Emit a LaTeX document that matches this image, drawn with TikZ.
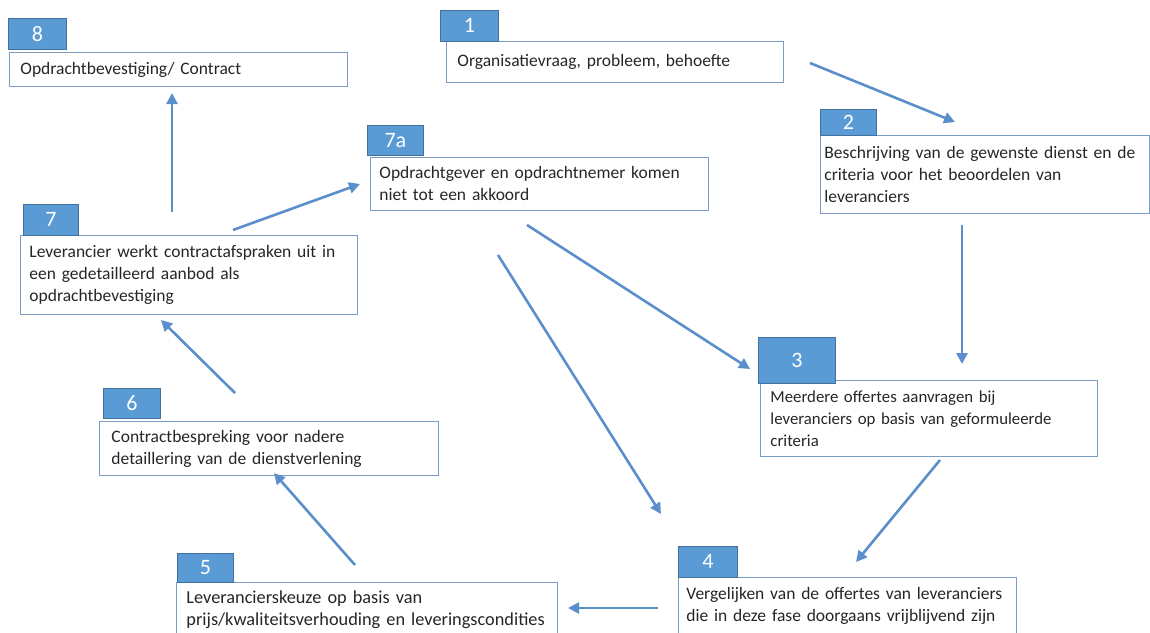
\documentclass[tikz,border=0pt]{standalone}
\usepackage{fontspec}
\setmainfont{Carlito}
\usetikzlibrary{arrows.meta}
\hyphenpenalty=10000
\exhyphenpenalty=10000
\definecolor{tabfill}{HTML}{5B9BD5}
\definecolor{tabline}{HTML}{41719C}
\definecolor{boxline}{HTML}{7C9BC4}
\definecolor{arrcol}{HTML}{5A8FCB}
\tikzset{
  stepbox/.style={draw=boxline, line width=0.9pt, fill=white, anchor=north west,
    inner xsep=10pt, inner ysep=0pt, align=left,
    font=\fontsize{17.5}{22}\selectfont, text=black!85},
  tabbox/.style={draw=tabline, line width=0.8pt, fill=tabfill, anchor=north west,
    inner sep=0pt, text=white, font=\fontsize{22}{24}\selectfont},
  arr/.style={draw=arrcol, line width=2.6pt, -{Triangle[length=11pt,width=11pt]}}
}
\begin{document}
\begin{tikzpicture}[x=1pt,y=-1pt]
\useasboundingbox (0,0) rectangle (1150,632);
% boxes
\node[stepbox, minimum width=338pt, minimum height=34pt, text width=316pt, inner xsep=11pt] (b8) at (9,52) {Opdrachtbevestiging/ Contract};
\node[stepbox, minimum width=337pt, minimum height=41pt, text width=315pt, inner xsep=11pt] (b1) at (446,41) {Organisatievraag, probleem, behoefte};
\node[stepbox, minimum width=329pt, minimum height=78pt, text width=321pt, inner xsep=4pt] (b2) at (820,135) {Beschrijving van de gewenste dienst en de\\criteria voor het beoordelen van\\leveranciers};
\node[stepbox, minimum width=337pt, minimum height=79pt, text width=319pt, inner xsep=9pt] (b7) at (20,235) {Leverancier werkt contractafspraken uit in\\een gedetailleerd aanbod als\\opdrachtbevestiging};
\node[stepbox, minimum width=338pt, minimum height=53pt, text width=320pt, inner xsep=9pt] (b7a) at (370,157) {Opdrachtgever en opdrachtnemer komen\\niet tot een akkoord};
\node[stepbox, minimum width=337pt, minimum height=76pt, text width=317pt, font=\fontsize{16.8}{22}\selectfont] (b3) at (760,380) {Meerdere offertes aanvragen bij\\leveranciers op basis van geformuleerde\\criteria};
\node[stepbox, minimum width=339pt, minimum height=54pt, text width=315pt, inner xsep=12pt] (b6) at (99,421) {Contractbespreking voor nadere\\detaillering van de dienstverlening};
\node[stepbox, minimum width=381pt, minimum height=54pt, text width=361pt, inner xsep=10pt, font=\fontsize{18.3}{22}\selectfont] (b5) at (176,582) {Leverancierskeuze op basis van\\\mbox{prijs/kwaliteitsverhouding en leveringscondities}};
\node[stepbox, minimum width=338pt, minimum height=56pt, text width=322pt, inner xsep=8pt] (b4) at (678,577) {Vergelijken van de offertes van leveranciers\\die in deze fase doorgaans vrijblijvend zijn};
% tabs
\node[tabbox, minimum width=58pt, minimum height=31pt] (t8) at (8,18) {8};
\node[tabbox, minimum width=58pt, minimum height=31pt] (t1) at (440,10) {1};
\node[tabbox, minimum width=56pt, minimum height=26pt] (t2) at (820,109) {2};
\node[tabbox, minimum width=55pt, minimum height=31pt] (t7) at (23,204) {7};
\node[tabbox, minimum width=56pt, minimum height=30pt] (t7a) at (367,125) {7a};
\node[tabbox, minimum width=77pt, minimum height=46pt] (t3) at (758,337) {3};
\node[tabbox, minimum width=57pt, minimum height=30pt] (t6) at (103,388) {6};
\node[tabbox, minimum width=56pt, minimum height=29pt] (t5) at (177,553) {5};
\node[tabbox, minimum width=59pt, minimum height=31pt] (t4) at (678,546) {4};
% arrow end points
\coordinate (p1s) at (810,63);  \coordinate (p1e) at (955,122);
\coordinate (p2s) at (962,225); \coordinate (p2e) at (962,364);
\coordinate (p3s) at (940,460); \coordinate (p3e) at (856,562);
\coordinate (p4s) at (658,608); \coordinate (p4e) at (568,608);
\coordinate (p5s) at (355,565); \coordinate (p5e) at (274,473);
\coordinate (p6s) at (235,393); \coordinate (p6e) at (161,320);
\coordinate (p7s) at (172,212); \coordinate (p7e) at (172,93);
\coordinate (p8s) at (233,230); \coordinate (p8e) at (360,184);
\coordinate (p9s) at (527,225); \coordinate (p9e) at (750,369);
\coordinate (p10s) at (498,255); \coordinate (p10e) at (661,514);
\draw[arr] (p1s) -- (p1e);
\draw[arr] (p2s) -- (p2e);
\draw[arr] (p3s) -- (p3e);
\draw[arr] (p4s) -- (p4e);
\draw[arr] (p5s) -- (p5e);
\draw[arr] (p6s) -- (p6e);
\draw[arr] (p7s) -- (p7e);
\draw[arr] (p8s) -- (p8e);
\draw[arr] (p9s) -- (p9e);
\draw[arr] (p10s) -- (p10e);
\end{tikzpicture}
\end{document}
